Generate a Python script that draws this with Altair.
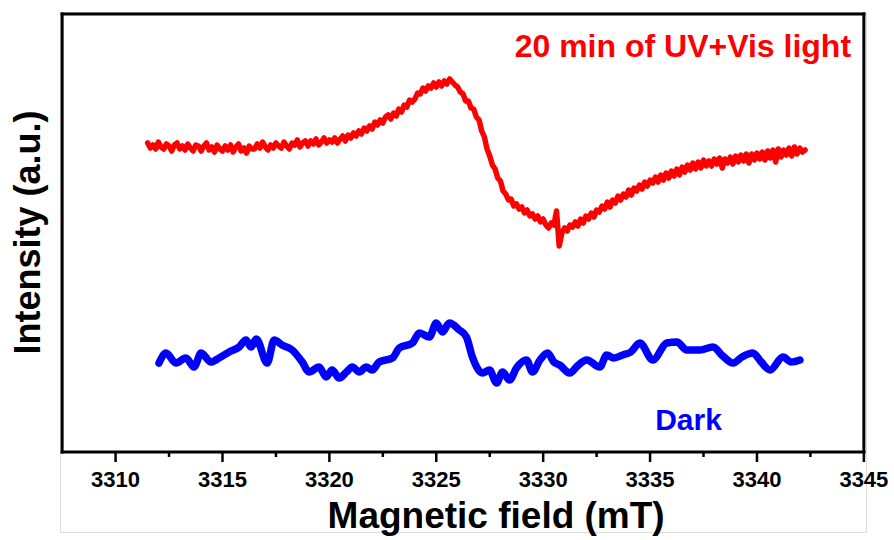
import altair as alt
import numpy as np
import pandas as pd

FONT = "Liberation Sans"

# EPR spectrum after 20 min of UV+Vis light, sampled every 0.125 mT from 3311.5 mT
uv_start = 3311.5
uv_step = 0.125
uv_intensity = [
    309, 304, 307, 303, 310, 305, 303, 308, 306, 301,
    307, 309, 303, 306, 302, 308, 304, 301, 307, 306,
    301, 306, 309, 302, 305, 300, 307, 303, 301, 306,
    302, 307, 300, 305, 308, 301, 304, 299, 306, 303,
    303, 308, 304, 310, 305, 302, 307, 304, 309, 306,
    304, 310, 306, 303, 309, 307, 312, 305, 309, 311,
    306, 311, 308, 313, 307, 310, 314, 309, 312, 310,
    314, 309, 313, 316, 311, 317, 314, 319, 316, 321,
    318, 324, 321, 326, 323, 330, 327, 332, 329, 335,
    337, 333, 339, 336, 343, 340, 347, 345, 352, 350,
    353, 359, 358, 364, 361, 366, 364, 369, 365, 370,
    366, 371, 368, 373, 370, 367, 365, 360, 358, 351,
    351, 344, 343, 335, 332, 321, 315, 303, 296, 287,
    283, 274, 271, 261, 258, 252, 253, 246, 248, 243,
    245, 239, 242, 236, 238, 233, 236, 230, 233, 227,
    224, 229, 227, 241, 206, 219, 224, 221, 227, 225,
    230, 226, 233, 229, 236, 233, 239, 235, 242, 240,
    246, 243, 250, 245, 252, 249, 256, 252, 258, 255,
    262, 257, 264, 261, 267, 263, 270, 266, 272, 269,
    275, 270, 277, 272, 279, 274, 281, 276, 283, 277,
    285, 280, 287, 282, 289, 283, 290, 284, 292, 286,
    291, 286, 293, 288, 294, 284, 293, 289, 295, 288,
    296, 290, 297, 291, 298, 289, 298, 292, 299, 293,
    300, 292, 301, 294, 302, 290, 303, 295, 302, 297,
    304, 296, 305, 298, 304, 300, 302,
]
uv_field = uv_start + uv_step * np.arange(len(uv_intensity))

# EPR spectrum in the dark
dark_field = [
    3312.03, 3312.36, 3312.82, 3313.29, 3313.67, 3314.00, 3314.46, 3314.84,
    3315.31, 3315.78, 3316.10, 3316.34, 3316.58, 3317.09, 3317.42, 3317.79,
    3318.26, 3318.73, 3319.05, 3319.52, 3319.85, 3320.13, 3320.46, 3320.80,
    3321.07, 3321.40, 3321.72, 3322.00, 3322.33, 3322.95, 3323.27, 3323.88,
    3324.21, 3324.68, 3325.00, 3325.29, 3325.61, 3326.08, 3326.41, 3326.69,
    3327.16, 3327.49, 3327.82, 3328.10, 3328.43, 3328.75, 3329.22, 3329.50,
    3329.85, 3330.21, 3330.50, 3330.77, 3331.24, 3331.60, 3332.04, 3332.65,
    3332.97, 3333.30, 3333.72, 3334.10, 3334.52, 3335.13, 3335.78, 3336.25,
    3336.72, 3337.33, 3337.94, 3338.40, 3338.88, 3339.30, 3339.81, 3340.20,
    3340.61, 3341.22, 3341.60, 3342.01,
]
dark_intensity = [
    89, 99, 89, 94, 85, 99, 90, 94,
    100, 105, 112, 105, 113, 89, 112, 107,
    102, 90, 80, 85, 75, 82, 74, 80,
    85, 80, 85, 82, 90, 94, 104, 109,
    119, 115, 129, 120, 129, 122, 115, 95,
    79, 82, 69, 80, 72, 84, 92, 80,
    92, 99, 90, 87, 79, 86, 92, 85,
    97, 94, 97, 100, 109, 92, 109, 110,
    102, 102, 105, 96, 89, 95, 99, 90,
    82, 95, 90, 92,
]

# Curve labels
label_text = ["20 min of UV+Vis light", "Dark"]
label_field = [3344.4, 3336.8]
label_intensity = [395, 22]
label_color = ["#ff0000", "#0000ff"]
label_align = ["right", "center"]
label_size = [32, 30]

# Field axis: framed range, labelled ticks and unlabelled half-way ticks
X_MIN, X_MAX = 3307.5, 3345
Y_MIN, Y_MAX = 0, 438
major_ticks = [3310 + 5 * k for k in range(8)]
minor_ticks = [3312.5 + 5 * k for k in range(7)]
x_title = "Magnetic field (mT)"
x_title_field = 3327.8

TICK_LONG, TICK_SHORT = 10, 5

uv_df = pd.DataFrame({"field": uv_field, "intensity": uv_intensity})
dark_df = pd.DataFrame({"field": dark_field, "intensity": dark_intensity})
major_df = pd.DataFrame({
    "field": major_ticks,
    "text": [str(v) for v in major_ticks],
    "y0": [Y_MIN] * len(major_ticks),
    "y1": [Y_MIN - TICK_LONG] * len(major_ticks),
})
minor_df = pd.DataFrame({
    "field": minor_ticks,
    "y0": [Y_MIN] * len(minor_ticks),
    "y1": [Y_MIN - TICK_SHORT] * len(minor_ticks),
})
frame_df = pd.DataFrame({
    "x1": [X_MIN, X_MIN, X_MIN, X_MAX],
    "x2": [X_MAX, X_MAX, X_MIN, X_MAX],
    "y1": [Y_MIN, Y_MAX, Y_MIN, Y_MIN],
    "y2": [Y_MIN, Y_MAX, Y_MAX, Y_MAX],
})
title_df = pd.DataFrame({"field": [x_title_field], "text": [x_title]})

# The view reaches below the frame so that ticks, tick labels and the
# axis title are drawn as ordinary marks on the shared scales (1 unit = 1 px).
x_scale = alt.Scale(domain=[3307.4, 3345.1], nice=False, zero=False)
y_scale = alt.Scale(domain=[-80, 440], nice=False, zero=False)

y_axis = alt.Axis(
    title="Intensity (a.u.)",
    labels=False,
    ticks=False,
    domain=False,
    grid=False,
    titleFont=FONT,
    titleFontSize=36,
    titleFontWeight="bold",
    titleColor="black",
    titlePadding=13,
    titleY=220,
)


def xenc(field="field"):
    return alt.X(f"{field}:Q", scale=x_scale, axis=None)


def yenc(field):
    return alt.Y(f"{field}:Q", scale=y_scale, axis=y_axis)


uv_line = alt.Chart(uv_df).mark_line(
    color="#ff0000", strokeWidth=5.5, strokeJoin="round", strokeCap="round"
).encode(x=xenc(), y=yenc("intensity"))

dark_line = alt.Chart(dark_df).mark_line(
    color="#0000ff", strokeWidth=7.5, strokeJoin="round", strokeCap="round",
    interpolate="monotone",
).encode(x=xenc(), y=yenc("intensity"))

frame = alt.Chart(frame_df).mark_rule(
    color="black", strokeWidth=3, strokeCap="square"
).encode(x=xenc("x1"), x2="x2:Q", y=yenc("y1"), y2="y2:Q")

major_rules = alt.Chart(major_df).mark_rule(color="black", strokeWidth=2.5).encode(
    x=xenc(), y=yenc("y0"), y2="y1:Q"
)
minor_rules = alt.Chart(minor_df).mark_rule(color="black", strokeWidth=2.5).encode(
    x=xenc(), y=yenc("y0"), y2="y1:Q"
)

tick_labels = alt.Chart(major_df).mark_text(
    font=FONT, fontSize=22, fontWeight="bold", color="black",
    align="center", baseline="alphabetic",
).encode(x=xenc(), y=alt.YDatum(-35), text="text:N")

x_title_mark = alt.Chart(title_df).mark_text(
    font=FONT, fontSize=37, fontWeight="bold", color="black",
    align="center", baseline="alphabetic",
).encode(x=xenc(), y=alt.YDatum(-76), text="text:N")

texts = []
for t, f, v, c, a, s in zip(label_text, label_field, label_intensity,
                            label_color, label_align, label_size):
    df = pd.DataFrame({"field": [f], "intensity": [v], "text": [t]})
    texts.append(
        alt.Chart(df).mark_text(
            font=FONT, fontSize=s, fontWeight="bold",
            color=c, align=a, baseline="alphabetic",
        ).encode(x=xenc(), y=yenc("intensity"), text="text:N")
    )

chart = alt.layer(
    dark_line, uv_line, frame, major_rules, minor_rules,
    tick_labels, x_title_mark, *texts
).properties(
    width=806,
    height=520,
    autosize=alt.AutoSizeParams(type="none"),
    padding={"left": 60, "top": 12, "right": 28, "bottom": 8},
).configure_view(
    stroke="white", strokeWidth=0, strokeOpacity=0
).configure(background="white")

chart.save("out.html", embed_options={"renderer": "svg", "actions": False})
